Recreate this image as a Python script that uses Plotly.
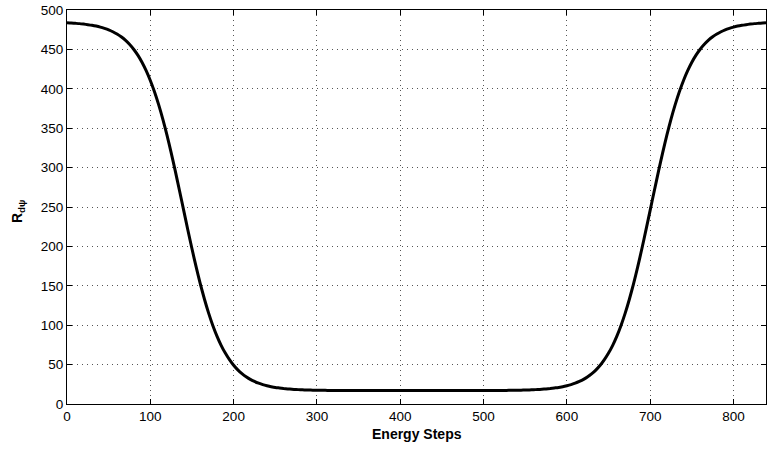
import plotly.graph_objects as go

# Energy step index (every 5 steps, plus final step)
steps = list(range(0, 840, 5)) + [839]

# R_dpsi values
r_dpsi = [
    483.8, 483.5, 483.1, 482.7, 482.1, 481.4, 480.6, 479.6, 478.3, 476.7,
    474.8, 472.4, 469.5, 466.0, 461.7, 456.5, 450.2, 442.7, 433.7, 423.0,
    410.6, 396.3, 379.9, 361.5, 341.1, 319.0, 295.5, 271.0, 246.0, 221.2,
    197.0, 174.0, 152.5, 132.9, 115.3, 99.7, 86.2, 74.5, 64.6, 56.2,
    49.1, 43.3, 38.5, 34.5, 31.2, 28.6, 26.4, 24.6, 23.2, 22.0,
    21.0, 20.3, 19.6, 19.1, 18.7, 18.4, 18.1, 17.9, 17.7, 17.6,
    17.5, 17.4, 17.3, 17.2, 17.2, 17.1, 17.1, 17.1,
    17.0, 17.0, 17.0, 17.0, 17.0, 17.0, 17.0, 17.0, 17.0, 17.0, 17.0,
    17.0, 17.0, 17.0, 17.0, 17.0, 17.0, 17.0, 17.0, 17.0, 17.0, 17.0,
    17.0, 17.0, 17.0, 17.0, 17.0, 17.0, 17.0, 17.0, 17.0, 17.0, 17.0,
    17.1, 17.1, 17.1, 17.2, 17.2, 17.3, 17.4, 17.5,
    17.6, 17.7, 17.9, 18.1, 18.4, 18.7, 19.1, 19.6, 20.3, 21.0,
    22.0, 23.2, 24.6, 26.4, 28.6, 31.2, 34.5, 38.5, 43.3, 49.1,
    56.2, 64.6, 74.5, 86.2, 99.7, 115.3, 132.9, 152.5, 174.0, 197.0,
    221.2, 246.0, 271.0, 295.5, 319.0, 341.1, 361.5, 379.9, 396.3, 410.6,
    423.0, 433.7, 442.7, 450.2, 456.5, 461.7, 466.0, 469.5, 472.4, 474.8,
    476.7, 478.3, 479.6, 480.6, 481.4, 482.1, 482.7, 483.1, 483.5, 483.8,
]

x_ticks = [0, 100, 200, 300, 400, 500, 600, 700, 800]
y_ticks = [0, 50, 100, 150, 200, 250, 300, 350, 400, 450, 500]

FONT = "Liberation Sans, Arial, Helvetica, sans-serif"

fig = go.Figure(
    go.Scatter(
        x=steps, y=r_dpsi, mode="lines",
        line=dict(color="black", width=3, shape="spline", smoothing=0.6),
        hoverinfo="skip",
    )
)

axis_common = dict(
    ticks="inside", ticklen=5, tickwidth=1, tickcolor="black",
    showline=True, linecolor="black", linewidth=1, mirror="allticks",
    showgrid=True, gridcolor="#555555", gridwidth=1, griddash="1px,4px",
    zeroline=False,
    tickfont=dict(family=FONT, size=13.5, color="black"),
)

fig.update_layout(
    width=767, height=450,
    margin=dict(l=67, r=1, t=10, b=46),
    paper_bgcolor="white", plot_bgcolor="white",
    showlegend=False,
    xaxis=dict(range=[0, 839], tickvals=x_ticks, **axis_common),
    yaxis=dict(range=[0, 500], tickvals=y_ticks, **axis_common),
    annotations=[
        dict(text="<b>Energy Steps</b>", xref="paper", yref="paper",
             x=0.5, y=-0.077, xanchor="center", yanchor="middle",
             showarrow=False, font=dict(family=FONT, size=14, color="black")),
        dict(text="<b>R<sub>dψ</sub></b>", xref="paper", yref="paper",
             x=-0.070, y=0.49, xanchor="center", yanchor="middle",
             textangle=-90, showarrow=False,
             font=dict(family=FONT, size=14, color="black")),
    ],
)

fig.write_html("out.html")
